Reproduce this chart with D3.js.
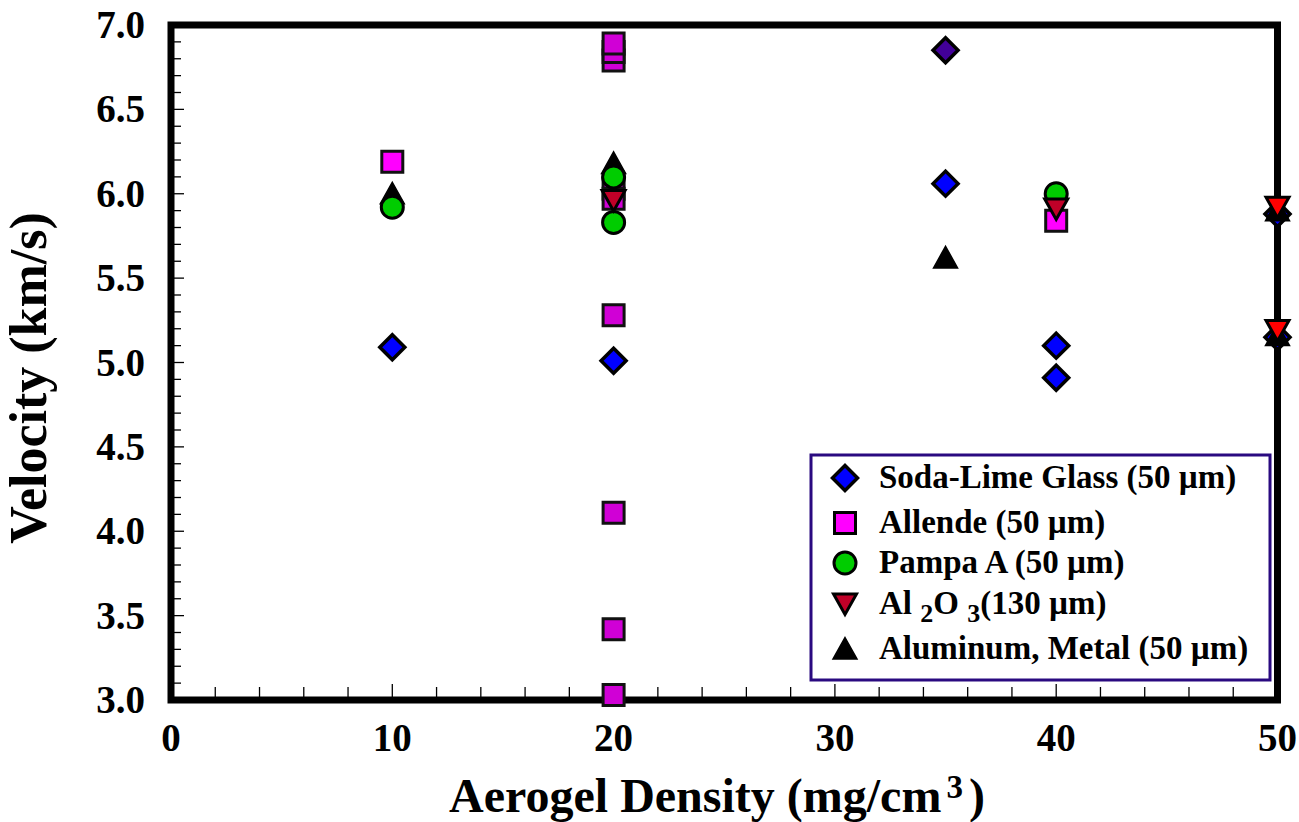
<!DOCTYPE html>
<html>
<head>
<meta charset="utf-8">
<script src="https://cdn.jsdelivr.net/npm/d3@7"></script>
<style>
  body { margin: 0; background: #ffffff; }
</style>
</head>
<body>
<svg class="velocity-chart" width="1299" height="822"></svg>
<script>
// tick labels
const densityTicks = [0, 10, 20, 30, 40, 50];
const velocityTicks = [3.0, 3.5, 4.0, 4.5, 5.0, 5.5, 6.0, 6.5, 7.0];

// Soda-Lime Glass (50 um)
const sodaLimeDensity = [10, 20, 35, 40, 40, 50, 50];
const sodaLimeVelocity = [5.09, 5.01, 6.06, 5.10, 4.91, 5.88, 5.15];
// the darker diamond at the top
const sodaLimeDarkDensity = [35];
const sodaLimeDarkVelocity = [6.85];

// Allende (50 um)
const allendeDensity = [10, 40];
const allendeVelocity = [6.19, 5.84];
const allendeDarkDensity = [20, 20, 20, 20, 20, 20, 20, 20, 20];
const allendeDarkVelocity = [6.79, 6.84, 6.89, 6.03, 5.97, 5.28, 4.11, 3.42, 3.03];

// Aluminum, Metal (50 um)
const aluminumDensity = [10, 20, 35, 50, 50];
const aluminumVelocity = [6.00, 6.18, 5.62, 5.90, 5.16];

// Pampa A (50 um)
const pampaDensity = [10, 20, 20, 40];
const pampaVelocity = [5.92, 6.10, 5.83, 6.00];

// Al2O3 (130 um)
const aluminaDensity = [20, 40];
const aluminaVelocity = [5.96, 5.91];
const aluminaBrightDensity = [50, 50];
const aluminaBrightVelocity = [5.92, 5.19];

const legendNames = ['Soda-Lime Glass (50 µm)', 'Allende (50 µm)', 'Pampa A (50 µm)', 'Al2O3 (130 µm)', 'Aluminum, Metal (50 µm)'];

const FONT = 'Liberation Serif';
const svg = d3.select('.velocity-chart');
const x = d3.scaleLinear().domain([0, 50]).range([171, 1277.5]);
const y = d3.scaleLinear().domain([3, 7]).range([700, 25]);

// marker paths, centred on 0,0
function markerPath(shape) {
  if (shape === 'diamond') { return 'M0,-12.5L12.5,0L0,12.5L-12.5,0Z' }
  if (shape === 'square') { return 'M-10.5,-10.5H10.5V10.5H-10.5Z' }
  if (shape === 'triUp') { return 'M0,-11.5L12,10L-12,10Z' }
  if (shape === 'triDown') { return 'M-11.5,-10L11.5,-10L0,10.5Z' }
  return null;
}

function drawMarker(g, shape, fill, stroke, sw) {
  if (shape === 'circle') {
    return g.append('circle').attr('r', 11).attr('fill', fill).attr('stroke', stroke).attr('stroke-width', sw);
  }
  return g.append('path').attr('d', markerPath(shape)).attr('fill', fill)
    .attr('stroke', stroke).attr('stroke-width', sw).attr('stroke-linejoin', 'miter');
}

function addText(parent) {
  return parent.append('text').attr('font-family', FONT).attr('font-weight', 'bold').attr('fill', '#000');
}

// ticks (inside the frame) - drawn first, frame goes on top
const ticks = svg.append('g').attr('stroke', '#000').attr('stroke-width', 1.3);
d3.range(30, 71).forEach(k => {
  const v = k / 10;
  const len = (k % 5 === 0) ? 13 : 10;
  ticks.append('line').attr('x1', x(0)).attr('x2', x(0) + len).attr('y1', y(v)).attr('y2', y(v));
});
d3.range(0, 51, 2).forEach(d => {
  const len = (d % 10 === 0) ? 16 : 13;
  ticks.append('line').attr('x1', x(d)).attr('x2', x(d)).attr('y1', y(3)).attr('y2', y(3) - len);
});

// frame
svg.append('rect')
  .attr('x', x(0)).attr('y', y(7))
  .attr('width', x(50) - x(0)).attr('height', y(3) - y(7))
  .attr('fill', 'none').attr('stroke', '#000').attr('stroke-width', 7);

// tick labels
velocityTicks.forEach(d => {
  addText(svg).attr('x', 145).attr('y', y(d) + 13)
    .attr('text-anchor', 'end').attr('font-size', 39)
    .text(d.toFixed(1));
});
densityTicks.forEach(d => {
  addText(svg).attr('x', x(d)).attr('y', 751)
    .attr('text-anchor', 'middle').attr('font-size', 39)
    .text(d);
});

// axis titles
const xTitle = addText(svg).attr('x', 717).attr('y', 812).attr('font-size', 48).attr('text-anchor', 'middle');
xTitle.append('tspan').text('Aerogel Density (mg/cm');
xTitle.append('tspan').attr('font-size', 33).attr('dx', 5).attr('dy', -14).text('3');
xTitle.append('tspan').attr('dx', 6).attr('dy', 14).text(')');

addText(svg)
  .attr('transform', 'translate(46,378) rotate(-90)')
  .attr('text-anchor', 'middle').attr('font-size', 52)
  .text('Velocity (km/s)');

// scatter series, in drawing order
const series = [
  { xs: sodaLimeDensity, ys: sodaLimeVelocity, shape: 'diamond', fill: '#0000ff', stroke: '#000', sw: 3.5 },
  { xs: sodaLimeDarkDensity, ys: sodaLimeDarkVelocity, shape: 'diamond', fill: '#420099', stroke: '#000', sw: 3.5 },
  { xs: allendeDensity, ys: allendeVelocity, shape: 'square', fill: '#ff00ff', stroke: '#111', sw: 3 },
  { xs: allendeDarkDensity, ys: allendeDarkVelocity, shape: 'square', fill: '#d000d6', stroke: '#111', sw: 3 },
  { xs: aluminumDensity, ys: aluminumVelocity, shape: 'triUp', fill: '#000', stroke: '#000', sw: 1.5 },
  { xs: pampaDensity, ys: pampaVelocity, shape: 'circle', fill: '#00cc00', stroke: '#000', sw: 3 },
  { xs: aluminaDensity, ys: aluminaVelocity, shape: 'triDown', fill: '#c00028', stroke: '#000', sw: 3 },
  { xs: aluminaBrightDensity, ys: aluminaBrightVelocity, shape: 'triDown', fill: '#ff0000', stroke: '#000', sw: 3 }
];

const points = svg.append('g').attr('class', 'points');
series.forEach(s => {
  s.xs.forEach((d, i) => {
    const g = points.append('g').attr('transform', 'translate(' + x(d) + ',' + y(s.ys[i]) + ')');
    drawMarker(g, s.shape, s.fill, s.stroke, s.sw);
  });
});

// legend
const legend = svg.append('g').attr('class', 'legend');
legend.append('rect')
  .attr('x', 811).attr('y', 455).attr('width', 459).attr('height', 225)
  .attr('fill', '#fff').attr('stroke', '#2a0a80').attr('stroke-width', 3);

const legendShapes = [
  { shape: 'diamond', fill: '#0000ff', sw: 3.5 },
  { shape: 'square', fill: '#ff00ff', sw: 3 },
  { shape: 'circle', fill: '#00cc00', sw: 3 },
  { shape: 'triDown', fill: '#c00028', sw: 3 },
  { shape: 'triUp', fill: '#000', sw: 1.5 }
];
const legendRows = [478, 523, 563, 604, 649];

legendNames.forEach((name, i) => {
  const g = legend.append('g').attr('transform', 'translate(845,' + legendRows[i] + ')');
  drawMarker(g, legendShapes[i].shape, legendShapes[i].fill, '#000', legendShapes[i].sw);
  const t = addText(legend).attr('x', 879).attr('y', legendRows[i] + 10).attr('font-size', 33);
  if (name.startsWith('Al2O3')) {
    t.append('tspan').text('Al ');
    t.append('tspan').attr('font-size', 26).attr('dy', 8).text('2');
    t.append('tspan').attr('dy', -8).text('O ');
    t.append('tspan').attr('font-size', 26).attr('dy', 8).text('3');
    t.append('tspan').attr('dy', -8).text('(130 µm)');
  } else {
    t.text(name);
  }
});
</script>
</body>
</html>
